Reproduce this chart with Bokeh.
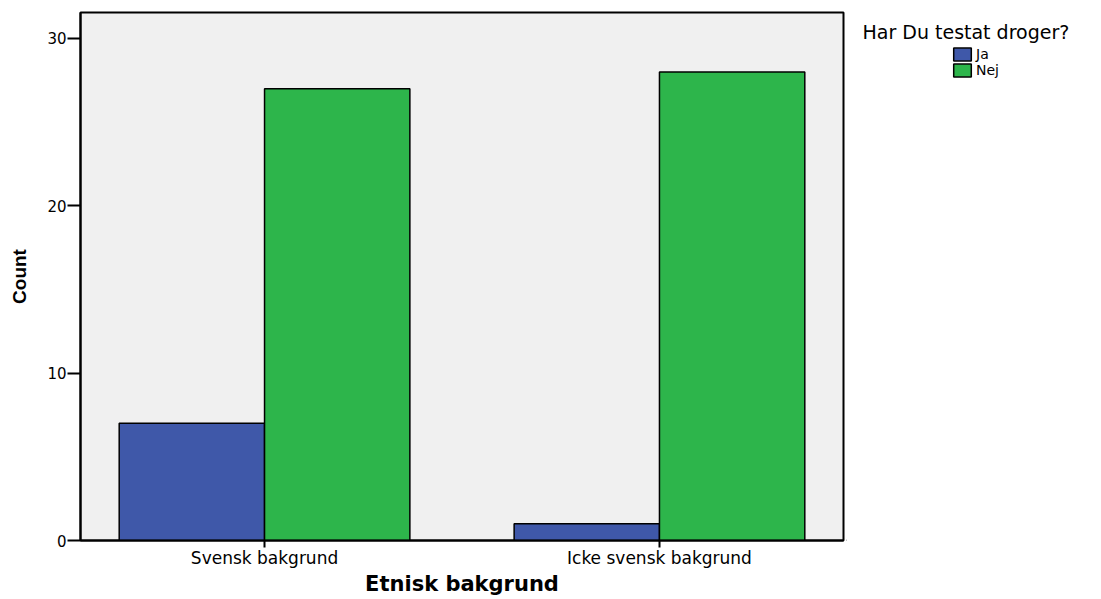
from bokeh.plotting import figure
from bokeh.layouts import row
from bokeh.models import Range1d, FixedTicker, Legend, LegendItem, ColumnDataSource, Label
from bokeh.embed import file_html
from bokeh.resources import INLINE

categories = ["Svensk bakgrund", "Icke svensk bakgrund"]
series = ["Ja", "Nej"]
ja = [7, 1]
nej = [27, 28]
y_ticks = [0, 10, 20, 30]
colors = ["#3F58A9", "#2DB54B"]
legend_title = "Har Du testat droger?"
x_label = "Etnisk bakgrund"
y_label = "Count"

centers = [i + 0.5 for i in range(len(categories))]
bw = 0.368

p = figure(width=846, height=599, output_backend="svg", toolbar_location=None,
           x_range=Range1d(0.034, 1.966), y_range=Range1d(0, 31.55),
           min_border_left=80, min_border_top=12, min_border_right=3, min_border_bottom=59)

src_ja = ColumnDataSource(dict(x=[c - bw / 2 for c in centers], top=ja))
src_nej = ColumnDataSource(dict(x=[c + bw / 2 for c in centers], top=nej))
r_ja = p.vbar(x="x", top="top", width=bw, source=src_ja, fill_color=colors[0], line_color="black", line_width=1.5)
r_nej = p.vbar(x="x", top="top", width=bw, source=src_nej, fill_color=colors[1], line_color="black", line_width=1.5)

p.background_fill_color = "#F0F0F0"
p.border_fill_color = "white"
p.outline_line_color = "black"
p.outline_line_width = 2
p.xgrid.visible = False
p.ygrid.visible = False

p.yaxis.ticker = FixedTicker(ticks=y_ticks)
p.yaxis.minor_tick_line_color = None
p.yaxis.major_tick_out = 13
p.yaxis.major_tick_in = 0
p.yaxis.major_tick_line_width = 2
p.yaxis.axis_line_width = 2
p.yaxis.major_label_text_font = "DejaVu Sans"
p.yaxis.major_label_text_font_size = "15px"
p.yaxis.major_label_text_color = "black"
p.yaxis.major_label_standoff = 1
p.yaxis.axis_label = y_label
p.yaxis.axis_label_text_font = "Liberation Sans"
p.yaxis.axis_label_text_font_style = "bold"
p.yaxis.axis_label_text_font_size = "19px"
p.yaxis.axis_label_text_color = "black"
p.yaxis.axis_label_standoff = 14

p.xaxis.ticker = FixedTicker(ticks=centers)
p.xaxis.major_label_overrides = {c: lab for c, lab in zip(centers, categories)}
p.xaxis.minor_tick_line_color = None
p.xaxis.major_tick_out = 7
p.xaxis.major_tick_in = 0
p.xaxis.major_tick_line_width = 2
p.xaxis.axis_line_width = 2
p.xaxis.major_label_text_font = "DejaVu Sans"
p.xaxis.major_label_text_font_size = "17px"
p.xaxis.major_label_text_color = "black"
p.xaxis.major_label_standoff = 0
p.xaxis.axis_label = x_label
p.xaxis.axis_label_text_font = "DejaVu Sans"
p.xaxis.axis_label_text_font_style = "bold"
p.xaxis.axis_label_text_font_size = "21px"
p.xaxis.axis_label_text_color = "black"
p.xaxis.axis_label_standoff = 1

# legend panel (its frame is aligned with the main frame: 528 px tall)
p2 = figure(width=255, height=599, output_backend="svg", toolbar_location=None,
            x_range=Range1d(0, 255), y_range=Range1d(0, 528),
            min_border=0, x_axis_location=None, y_axis_location=None)
p2.outline_line_color = None
p2.background_fill_color = "white"
p2.border_fill_color = "white"
p2.xgrid.visible = False
p2.ygrid.visible = False
# legend-only renderers: one zero-height bar each, outside the visible range
key_src = ColumnDataSource(dict(x=[-50], top=[0]))
l_ja = p2.vbar(x="x", top="top", width=1, source=key_src, fill_color=colors[0], line_color="black", line_width=1.5)
l_nej = p2.vbar(x="x", top="top", width=1, source=key_src, fill_color=colors[1], line_color="black", line_width=1.5)

p2.add_layout(Label(x=16, y=509, x_units="screen", y_units="screen", text=legend_title,
                    text_font="DejaVu Sans", text_font_size="19px", text_color="black",
                    text_baseline="middle"))

legend = Legend(items=[LegendItem(label=series[0], renderers=[l_ja]),
                       LegendItem(label=series[1], renderers=[l_nej])],
                location=(105, 462), orientation="vertical",
                glyph_width=22, glyph_height=16, label_height=16, spacing=0,
                label_text_font="DejaVu Sans", label_text_font_size="14px", label_text_color="black",
                label_standoff=3, padding=0, margin=0,
                border_line_color=None, background_fill_alpha=0)
p2.add_layout(legend, "center")

open("out.html", "w").write(file_html(row(p, p2), INLINE))
